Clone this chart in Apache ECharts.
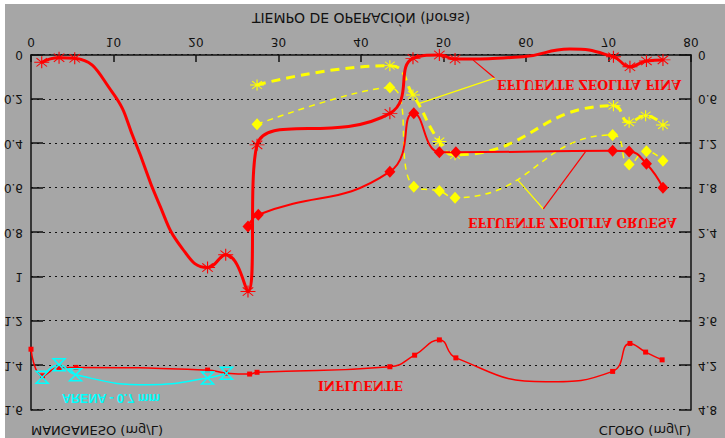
<!DOCTYPE html>
<html>
<head>
<meta charset="utf-8">
<script src="https://cdn.jsdelivr.net/npm/echarts@6/dist/echarts.min.js"></script>
<style>
  html, body { margin: 0; padding: 0; background: #ffffff; }
  #panel { position: absolute; left: 5px; top: 4px; width: 720px; height: 434px; background: #a6a6a6; }
  /* the whole plot is printed mirrored top-to-bottom */
  #chart { position: absolute; left: 0; top: 0; width: 725px; height: 438px; transform: scaleY(-1); }
</style>
</head>
<body>
<div id="panel"></div>
<div id="chart"></div>
<script>
// ---- operating time axis (hours) ----
const hourTicks = [0, 10, 20, 30, 40, 50, 60, 70, 80];
const mnTicks = [0, 0.2, 0.4, 0.6, 0.8, 1, 1.2, 1.4, 1.6];
const clTicks = [0, 0.6, 1.2, 1.8, 2.4, 3, 3.6, 4.2, 4.8];

// ---- manganese, fine zeolite effluent (mg/L); mark 0 = bend of the drawn curve only ----
const fineHours = [1.3, 3.4, 5.3, 9.8, 12.6, 15.4, 18.3, 21.4, 23.6, 26.3, 27.4, 43.5, 46.3, 49.5, 51.4, 59.6, 65.3, 70.6, 72.6, 74.6, 76.6];
const fineMn    = [0.033, 0.012, 0.015, 0.165, 0.39, 0.66, 0.87, 0.958, 0.90, 1.066, 0.405, 0.263, 0.015, 0.0, 0.018, 0.008, -0.027, 0.008, 0.053, 0.027, 0.022];
const fineMark  = [1, 1, 1, 0, 0, 0, 0, 1, 1, 1, 1, 1, 1, 1, 1, 0, 0, 1, 1, 1, 1];

// ---- manganese, coarse zeolite effluent (mg/L) ----
const coarseHours = [26.3, 27.55, 43.5, 46.4, 49.5, 51.5, 70.5, 72.5, 74.6, 76.6];
const coarseMn    = [0.773, 0.72, 0.526, 0.263, 0.438, 0.438, 0.432, 0.435, 0.49, 0.598];

// ---- chloride, fine zeolite effluent (mg/L) ----
const fineClHours = [27.4, 43.5, 46.3, 49.5, 51.4, 70.6, 72.5, 74.5, 76.6];
const fineCl      = [0.405, 0.144, 0.54, 1.17, 1.35, 0.685, 0.91, 0.82, 0.946];

// ---- chloride, coarse zeolite effluent (mg/L) ----
const coarseClHours = [27.4, 43.5, 46.4, 49.5, 51.4, 70.5, 72.5, 74.6, 76.6];
const coarseCl      = [0.937, 0.44, 1.78, 1.84, 1.93, 1.08, 1.48, 1.30, 1.43];

// ---- manganese, influent (mg/L) ----
const inflHours = [0, 1.4, 3.4, 5.45, 21.4, 23.7, 26.5, 27.4, 43.5, 46.5, 49.5, 51.5, 62.4, 70.5, 72.6, 74.5, 76.5];
const inflMn    = [1.326, 1.446, 1.408, 1.408, 1.42, 1.434, 1.438, 1.43, 1.405, 1.353, 1.284, 1.365, 1.473, 1.426, 1.30, 1.339, 1.374];
const inflMark  = [1, 1, 1, 1, 1, 1, 1, 1, 1, 1, 1, 1, 0, 1, 1, 1, 1];

// ---- manganese, sand filter 0.7 mm (mg/L) ----
const sandHours = [1.35, 3.4, 5.4, 14.3, 21.4, 23.7];
const sandMn    = [1.452, 1.396, 1.441, 1.486, 1.456, 1.434];
const sandMark  = [1, 1, 1, 0, 1, 1];

// leader lines from the labels to their curves, in (hours, Mn) units
const fineLeaders = [[[53.6, 0.023], [56.2, 0.104]], [[56.2, 0.104], [46.9, 0.22]]];
const coarseLeaders = [[[59.0, 0.563], [62.1, 0.694]], [[62.1, 0.694], [67.2, 0.437]]];

const RED = '#ff0000', YELLOW = '#ffff00', CYAN = '#00ffff', INK = '#111111';
const ASTERISK = 'path://M0,5L10,5M5,0L5,10M1.5,1.5L8.5,8.5M8.5,1.5L1.5,8.5';
const HOURGLASS = 'path://M0,0L10,0L0,10L10,10Z';
const FONT = 'DejaVu Sans';

function points(xs, ys, marks, sym) {
  return xs.map((x, i) => ({ value: [x, ys[i]], symbol: marks && !marks[i] ? 'none' : sym }));
}

const chart = echarts.init(document.getElementById('chart'), null, { renderer: 'svg' });

const yAxisBase = {
  type: 'value',
  axisLine: { show: true, lineStyle: { color: INK, width: 1.5 } },
  axisTick: { show: true, inside: true, length: 12, lineStyle: { color: INK, width: 1.5 } },
  axisLabel: { fontFamily: FONT, fontSize: 12, color: INK },
  nameTextStyle: { fontFamily: FONT, fontSize: 13, color: INK, verticalAlign: 'middle' },
  nameLocation: 'end',
  nameGap: 20
};

chart.setOption({
  animation: false,
  backgroundColor: 'transparent',
  grid: { left: 31, right: 34, top: 28, bottom: 55, outerBoundsMode: 'none' },
  xAxis: {
    type: 'value',
    min: hourTicks[0], max: hourTicks[hourTicks.length - 1], interval: 10,
    name: 'TIEMPO DE OPERACIÓN (horas)',
    nameLocation: 'middle', nameGap: 37,
    nameTextStyle: { fontFamily: FONT, fontSize: 14, color: INK, verticalAlign: 'middle' },
    axisLine: { show: true, lineStyle: { color: INK, width: 1.5 } },
    axisTick: { show: true, inside: true, length: 7, lineStyle: { color: INK, width: 1.5 } },
    axisLabel: { fontFamily: FONT, fontSize: 12, color: INK, margin: 7,
      customValues: hourTicks },
    splitLine: { show: false }
  },
  yAxis: [
    Object.assign({}, yAxisBase, {
      min: mnTicks[0], max: mnTicks[mnTicks.length - 1], interval: 0.2,
      position: 'left',
      name: 'MANGANESO (mg/L)',
      nameTextStyle: Object.assign({}, yAxisBase.nameTextStyle, { align: 'left' }),
      axisLabel: Object.assign({}, yAxisBase.axisLabel, { margin: 8 }),
      splitLine: { show: true, lineStyle: { color: INK, width: 1, type: [2, 4] } }
    }),
    Object.assign({}, yAxisBase, {
      min: clTicks[0], max: clTicks[clTicks.length - 1], interval: 0.6,
      position: 'right',
      name: 'CLORO (mg/L)',
      nameTextStyle: Object.assign({}, yAxisBase.nameTextStyle, { align: 'right' }),
      axisLabel: Object.assign({}, yAxisBase.axisLabel, { margin: 7 }),
      splitLine: { show: false }
    })
  ],
  series: [
    {
      name: 'INFLUENTE', type: 'line', yAxisIndex: 0, smooth: true, showAllSymbol: true,
      data: points(inflHours, inflMn, inflMark, 'rect'),
      symbolSize: 5,
      lineStyle: { color: RED, width: 1.5 },
      itemStyle: { color: RED }
    },
    {
      name: 'ARENA - 0.7 mm', type: 'line', yAxisIndex: 0, smooth: true, showAllSymbol: true,
      data: points(sandHours, sandMn, sandMark, HOURGLASS),
      symbolSize: [12, 12],
      lineStyle: { color: CYAN, width: 1.5 },
      itemStyle: { color: 'rgba(0,0,0,0)', borderColor: CYAN, borderWidth: 1.5 }
    },
    {
      name: 'Cl zeolita gruesa', type: 'line', yAxisIndex: 1, smooth: true, showAllSymbol: true,
      data: points(coarseClHours, coarseCl, null, 'diamond'),
      symbolSize: [11, 12],
      lineStyle: { color: YELLOW, width: 1.5, type: [6, 5] },
      itemStyle: { color: YELLOW }
    },
    {
      name: 'Cl zeolita fina', type: 'line', yAxisIndex: 1, smooth: true, showAllSymbol: true,
      data: points(fineClHours, fineCl, null, ASTERISK),
      symbolSize: [14, 11],
      lineStyle: { color: YELLOW, width: 3, type: [9, 6] },
      itemStyle: { color: YELLOW, borderColor: YELLOW, borderWidth: 1 }
    },
    {
      name: 'Mn zeolita gruesa', type: 'line', yAxisIndex: 0, smooth: true, showAllSymbol: true,
      data: points(coarseHours, coarseMn, null, 'diamond'),
      symbolSize: [11, 12],
      lineStyle: { color: RED, width: 2 },
      itemStyle: { color: RED }
    },
    {
      name: 'Mn zeolita fina', type: 'line', yAxisIndex: 0, smooth: true, showAllSymbol: true, clip: false,
      data: points(fineHours, fineMn, fineMark, ASTERISK),
      symbolSize: [15, 12],
      lineStyle: { color: RED, width: 3 },
      itemStyle: { color: RED, borderColor: RED, borderWidth: 1 }
    }
  ]
});

// labels and leader lines
function px(p) { return chart.convertToPixel({ xAxisIndex: 0, yAxisIndex: 0 }, p); }
function leader(seg, color) {
  const a = px(seg[0]), b = px(seg[1]);
  return { type: 'line', silent: true, z: 50,
    shape: { x1: a[0], y1: a[1], x2: b[0], y2: b[1] },
    style: { stroke: color, lineWidth: 1.2 } };
}
function label(text, x, y, color, font, size, weight) {
  return { type: 'text', silent: true, z: 60, x: x, y: y,
    style: { text: text, fill: color, font: (weight || 'normal') + ' ' + size + 'px "' + font + '"',
      verticalAlign: 'middle', align: 'left' } };
}

chart.setOption({
  graphic: [
    leader(fineLeaders[0], RED), leader(fineLeaders[1], YELLOW),
    leader(coarseLeaders[0], YELLOW), leader(coarseLeaders[1], RED),
    label('EFLUENTE ZEOLITA FINA', 497, 354, RED, 'DejaVu Serif', 12.5, 'bold'),
    label('EFLUENTE ZEOLITA GRUESA', 468, 216, RED, 'DejaVu Serif', 12.5, 'bold'),
    label('INFLUENTE', 318, 53, RED, 'DejaVu Serif', 12.5, 'bold'),
    label('ARENA - 0.7 mm', 62, 40, CYAN, 'Liberation Sans', 12.5, 'bold')
  ]
});
</script>
</body>
</html>
